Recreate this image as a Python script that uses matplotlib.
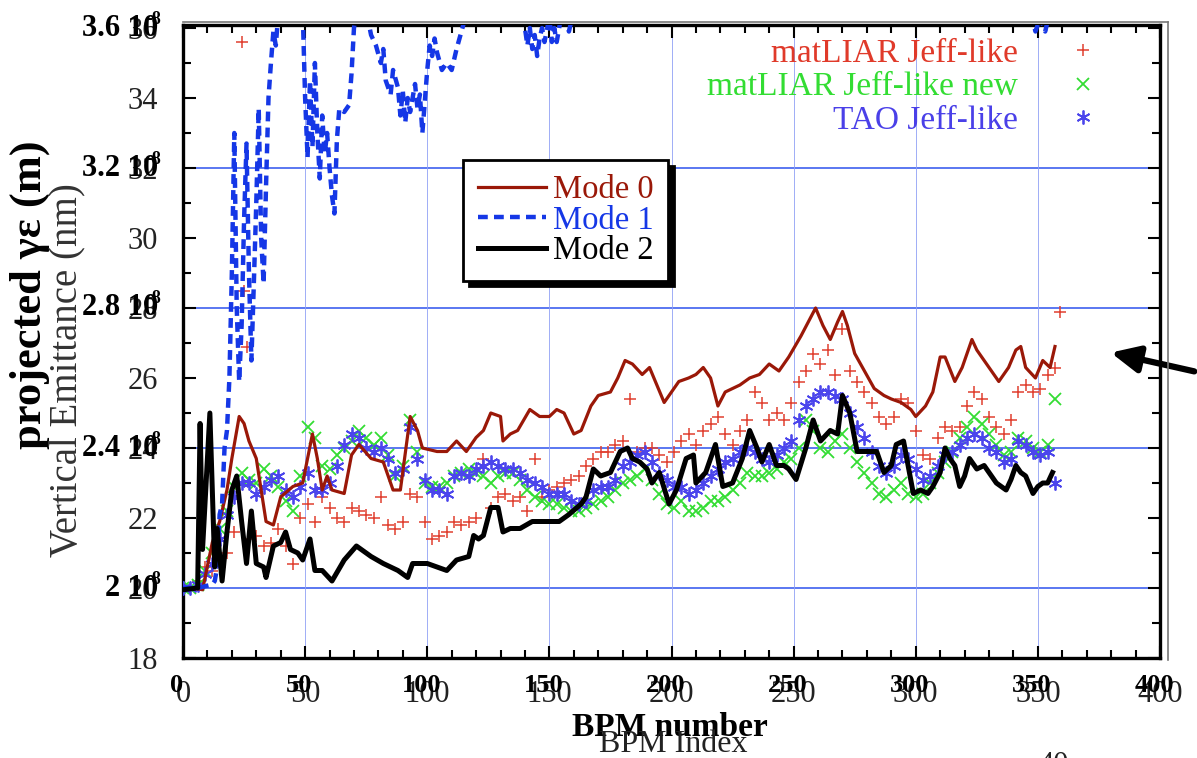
import matplotlib
matplotlib.use("Agg")
import matplotlib.pyplot as plt
from matplotlib.lines import Line2D
from matplotlib.ticker import MultipleLocator

plt.rcParams['font.family'] = ['Liberation Serif', 'DejaVu Serif']
plt.rcParams['mathtext.fontset'] = 'custom'
plt.rcParams['mathtext.rm'] = 'Liberation Serif'
plt.rcParams['mathtext.bf'] = 'Liberation Serif:bold'

# ---- marker series (every 3rd BPM) ----
bpm = list(range(0, 358, 3))

tao = [20.0, 20.0, 20.1, 20.4, 20.7, 21.4, 22.1, 22.6, 23.0, 23.0,
       22.7, 22.9, 23.1, 23.2, 22.8, 22.6, 22.9, 23.3, 22.8, 22.8,
       23.0, 23.5, 24.1, 24.4, 24.3, 24.0, 23.9, 24.0, 23.7, 23.3,
       23.4, 24.6, 23.7, 23.1, 22.8, 22.8, 22.7, 23.2, 23.3, 23.2,
       23.4, 23.5, 23.6, 23.5, 23.4, 23.4, 23.3, 23.1, 23.0, 22.9,
       22.7, 22.7, 22.7, 22.5, 22.4, 22.5, 22.8, 22.9, 22.9, 23.1,
       23.5, 23.6, 23.8, 23.9, 23.6, 23.3, 23.1, 22.9, 22.9, 22.7,
       22.8, 23.0, 23.2, 23.4, 23.6, 23.7, 23.9, 24.0, 23.9, 23.7,
       23.6, 23.8, 24.0, 24.2, 24.8, 25.2, 25.4, 25.6, 25.6, 25.5,
       25.4, 25.0, 24.6, 24.3, 23.9, 23.5, 23.3, 23.5, 23.8, 23.7,
       23.4, 23.1, 23.2, 23.5, 23.8, 23.9, 24.1, 24.3, 24.4, 24.3,
       24.0, 23.9, 23.6, 23.7, 24.2, 24.1, 23.9, 23.8, 23.9, 23.0]

liar_new = [20.0, 20.0, 20.1, 20.5, 21.0, 21.7, 22.2, 22.9, 23.3, 23.1,
            23.0, 23.4, 23.2, 22.9, 22.5, 22.2, 23.2, 24.6, 24.3, 23.5,
            23.4, 23.8, 24.0, 24.2, 24.5, 24.3, 24.1, 24.3, 23.8, 23.2,
            23.5, 24.8, 23.9, 23.0, 22.9, 22.9, 23.0, 23.2, 23.3, 23.4,
            23.3, 23.2, 23.0, 23.2, 23.3, 23.3, 23.1, 22.8, 22.6, 22.5,
            22.4, 22.4, 22.3, 22.2, 22.2, 22.3, 22.4, 22.5, 22.6, 22.8,
            23.0, 23.1, 23.2, 23.4, 23.1, 22.7, 22.4, 22.3, 22.5, 22.2,
            22.2, 22.3, 22.5, 22.5, 22.6, 22.8, 23.0, 23.3, 23.2, 23.2,
            23.3, 23.4, 23.6, 23.7, 24.0, 24.8, 24.5, 24.0, 23.9, 24.2,
            24.4, 24.0, 23.6, 23.3, 23.0, 22.7, 22.6, 22.8, 23.0, 22.7,
            22.6, 22.7, 23.0, 23.3, 23.6, 23.9, 24.3, 24.6, 24.9, 24.7,
            24.4, 24.1, 23.8, 23.9, 24.3, 24.2, 24.0, 23.9, 24.1, 25.4]

liar = [20.0, 20.0, 20.2, 20.6, 20.5, 20.6, 21.0, 21.6, 35.6, 21.4,
        21.5, 21.2, 21.3, 21.7, 21.2, 20.7, 22.0, 22.4, 21.9, 22.6,
        22.3, 22.0, 21.9, 22.3, 22.2, 22.1, 22.0, 22.6, 21.8, 21.7,
        21.9, 22.7, 22.6, 21.9, 21.4, 21.5, 21.6, 21.9, 21.8, 21.9,
        22.0, 23.7, 22.3, 22.6, 22.7, 22.5, 22.6, 22.2, 23.7, 22.6,
        22.8, 22.9, 23.0, 23.1, 23.2, 23.5, 23.7, 23.9, 23.9, 24.1,
        24.2, 25.4, 23.9, 24.0, 24.0, 23.8, 23.6, 23.9, 24.2, 24.4,
        24.1, 24.5, 24.7, 24.9, 24.4, 24.1, 24.5, 24.8, 25.6, 25.3,
        24.8, 25.0, 24.8, 25.3, 25.9, 26.2, 26.7, 26.4, 26.8, 26.1,
        27.4, 26.2, 25.9, 25.6, 25.3, 24.9, 24.7, 24.9, 25.4, 25.3,
        24.5, 23.8, 23.7, 24.3, 24.6, 24.5, 24.6, 25.2, 25.6, 25.4,
        24.9, 24.6, 24.4, 24.8, 25.6, 25.8, 25.6, 25.7, 26.1, 26.3]
liar_extra_x = [25, 26, 359]
liar_extra_y = [28.5, 26.9, 27.9]

# ---- line series ----
mode0_x = [0, 4, 8, 12, 15, 18, 20, 23, 25, 27, 30, 34, 37, 40, 45, 49, 53, 55, 57, 59,
           61, 66, 69, 72, 77, 82, 86, 89, 93, 96, 98, 104, 108, 112, 116, 120, 123, 126, 130, 131,
           134, 137, 142, 146, 150, 153, 156, 160, 163, 167, 170, 175, 178, 181, 184, 188, 191, 194, 197, 200,
           203, 207, 210, 213, 216, 219, 222, 225, 228, 232, 236, 240, 244, 248, 253, 256, 259, 262, 265, 268,
           270, 272, 275, 279, 283, 287, 290, 294, 298, 300, 304, 307, 310, 312, 316, 319, 323, 325, 329, 332,
           334, 338, 341, 343, 345, 349, 352, 355, 357]
mode0_y = [20.0, 20.0, 19.95, 21.3, 21.9, 22.8, 23.7, 24.9, 24.7, 24.2, 23.7, 21.9, 21.8, 22.6, 22.9, 23.0, 24.4, 23.7, 22.8, 23.2,
           22.8, 22.7, 23.8, 24.1, 23.7, 23.6, 22.8, 22.8, 24.9, 24.5, 24.0, 23.9, 23.9, 24.2, 23.9, 24.3, 24.5, 25.0, 24.9, 24.2,
           24.4, 24.5, 25.1, 24.9, 24.9, 25.1, 25.0, 24.4, 24.5, 25.2, 25.5, 25.6, 26.0, 26.5, 26.4, 26.1, 26.3, 25.8, 25.3, 25.6,
           25.9, 26.0, 26.1, 26.3, 26.0, 25.2, 25.6, 25.7, 25.8, 26.0, 26.1, 26.4, 26.2, 26.6, 27.2, 27.6, 28.0, 27.5, 27.1, 27.6,
           27.9, 27.5, 26.7, 26.2, 25.7, 25.5, 25.4, 25.3, 25.1, 24.9, 25.2, 25.6, 26.6, 26.6, 25.9, 26.3, 27.1, 26.8, 26.4, 26.1,
           25.9, 26.3, 26.8, 26.9, 26.3, 26.0, 26.5, 26.3, 26.9]

mode1_x = [0, 6, 12, 13, 14, 15, 16, 17, 18, 19, 20, 21, 22, 23, 24, 25, 26, 27, 28, 29,
           30, 31, 32, 33, 34, 35, 36, 37, 38, 39, 42, 46, 49, 50, 51, 52, 53, 54, 55, 56,
           57, 58, 59, 60, 61, 62, 63, 64, 66, 68, 69, 70, 72, 75, 77, 79, 81, 82, 83, 85,
           86, 88, 89, 90, 91, 92, 93, 95, 96, 97, 98, 99, 100, 101, 102, 103, 104, 106, 108, 110,
           112, 114, 116, 120, 130, 138, 141, 142, 143, 144, 145, 146, 147, 148, 150, 151, 152, 153, 155, 157,
           158, 160, 170, 200, 250, 300, 340, 348, 349, 351, 353, 355, 357]
mode1_y = [20.0, 20.0, 20.1, 20.2, 20.6, 22.1, 22.4, 24.0, 24.5, 26.0, 29.0, 33.0, 28.0, 25.9, 27.5, 30.5, 32.7, 29.0, 26.5, 28.7,
           31.0, 33.7, 30.0, 28.7, 31.5, 34.0, 35.0, 35.9, 35.5, 36.4, 37.0, 37.0, 36.5, 34.0, 32.3, 34.5, 32.6, 35.0, 33.0, 31.7,
           33.5, 32.4, 33.0, 32.0, 31.2, 30.7, 32.8, 33.7, 33.6, 33.8, 34.7, 36.0, 37.0, 36.5, 35.8, 35.5, 35.0, 35.4, 34.5, 34.1,
           34.8, 34.3, 33.5, 34.2, 33.3, 34.0, 33.6, 34.4, 33.7, 34.1, 33.0, 33.9, 34.8, 35.5, 35.2, 35.7, 35.3, 34.8, 35.0, 34.8,
           35.4, 35.9, 36.4, 37.5, 38.0, 37.0, 35.5, 36.0, 35.4, 35.8, 35.2, 35.7, 36.0, 35.6, 36.3, 35.6, 36.0, 35.6, 36.4, 36.2,
           35.9, 36.5, 38.0, 39.0, 40.0, 39.0, 37.5, 36.2, 35.9, 36.3, 35.9, 36.5, 37.0]

mode2_x = [0, 6, 7, 8, 11, 13, 14, 16, 18, 20, 22, 24, 26, 28, 30, 33, 34, 37, 40, 42,
           44, 47, 49, 52, 54, 57, 61, 66, 71, 77, 82, 88, 92, 94, 100, 108, 112, 117, 119, 121,
           123, 126, 129, 131, 134, 138, 143, 149, 154, 158, 163, 165, 168, 171, 175, 179, 182, 184, 187, 190,
           192, 195, 199, 202, 206, 209, 210, 214, 218, 221, 225, 229, 232, 235, 237, 240, 243, 246, 248, 251,
           255, 258, 261, 265, 268, 270, 273, 276, 280, 284, 287, 290, 292, 295, 299, 302, 305, 307, 310, 312,
           314, 316, 318, 320, 322, 325, 328, 330, 333, 337, 339, 341, 343, 345, 348, 350, 352, 354, 356]
mode2_y = [19.95, 20.0, 24.7, 21.1, 25.0, 20.6, 21.7, 20.2, 21.6, 22.8, 23.2, 21.9, 20.7, 22.2, 20.7, 20.6, 20.3, 21.2, 21.3, 21.6,
           21.1, 21.0, 20.8, 21.4, 20.5, 20.5, 20.2, 20.8, 21.2, 20.9, 20.7, 20.5, 20.3, 20.7, 20.7, 20.5, 20.8, 20.9, 21.5, 21.4,
           21.5, 22.3, 22.3, 21.6, 21.7, 21.7, 21.9, 21.9, 21.9, 22.1, 22.4, 22.6, 23.4, 23.2, 23.3, 23.9, 24.0, 23.7, 23.6, 23.4,
           23.0, 23.3, 22.4, 22.8, 23.7, 23.8, 23.0, 23.3, 24.1, 22.9, 23.0, 23.7, 24.5, 24.0, 23.6, 24.1, 23.5, 23.5, 23.4, 23.1,
           24.0, 24.8, 24.2, 24.5, 24.4, 25.5, 25.0, 23.9, 23.9, 23.9, 23.3, 23.5, 24.1, 24.2, 22.7, 22.8, 22.7, 22.9, 23.3, 24.0,
           23.7, 23.5, 22.9, 23.2, 23.7, 23.4, 23.5, 23.3, 23.0, 22.8, 23.1, 23.5, 23.3, 23.2, 22.7, 22.9, 23.0, 23.0, 23.3]

y_ticks = [18, 20, 22, 24, 26, 28, 30, 32, 34, 36]
bold_y = [20, 24, 28, 32, 36]
bold_y_labels = ['2 10', '2.4 10', '2.8 10', '3.2 10', '3.6 10']
x_ticks = [0, 50, 100, 150, 200, 250, 300, 350, 400]

W, H = 1197, 758
fig = plt.figure(figsize=(W / 100, H / 100), dpi=100)


def fx(x):
    return x / W


def fy(y):
    return 1 - y / H


ax = fig.add_axes([fx(183), fy(658), (1160 - 183) / W, (658 - 25) / H])
ax.set_xlim(0, 400)
ax.set_ylim(18, 18 + 633 / 35)

# grid
for g in bold_y[:-1]:
    ax.axhline(g, color='#4d6cf0', lw=1.3, zorder=1)
for g in x_ticks[1:-1]:
    ax.axvline(g, color='#8fa0f5', lw=0.6, zorder=1)

# markers
ax.plot(bpm, liar, ls='none', marker='+', ms=9, mew=1.1, color='#e04030', zorder=3)
ax.plot(liar_extra_x, liar_extra_y, ls='none', marker='+', ms=9, mew=1.1, color='#e04030', zorder=3)
ax.plot(bpm, liar_new, ls='none', marker='x', ms=8, mew=1.3, color='#33dd33', zorder=3)
ax.plot(bpm, tao, ls='none', marker=(6, 2, 0), ms=10, mew=1.3, color='#4b45ec', zorder=3)

# lines
l0, = ax.plot(mode0_x, mode0_y, color='#9a1808', lw=2.3, zorder=4, label='Mode 0')
l1, = ax.plot(mode1_x, mode1_y, color='#1537e6', lw=3.2, ls=(0, (2.2, 1.4)), zorder=4, label='Mode 1')
l2, = ax.plot(mode2_x, mode2_y, color='black', lw=3.6, zorder=5, label='Mode 2')

# ticks and spines
ax.set_yticks(y_ticks)
ax.set_yticklabels([str(v) for v in y_ticks])
ax.yaxis.set_minor_locator(MultipleLocator(1))
ax.set_xticks(x_ticks)
ax.set_xticklabels([str(v) for v in x_ticks])
ax.xaxis.set_minor_locator(MultipleLocator(10))
ax.tick_params(which='both', direction='in', top=True, right=True, width=1.5, colors='black')
ax.tick_params(which='major', length=9)
ax.tick_params(which='minor', length=6)
ax.tick_params(axis='y', which='major', pad=18, labelsize=22, labelcolor='#222222')
ax.tick_params(axis='x', which='major', pad=16, labelsize=22, labelcolor='#222222')
for s in ax.spines.values():
    s.set_linewidth(2.4)

# second frame of the overlaid page
fig.add_artist(Line2D([fx(1168), fx(1168)], [fy(22), fy(660)], color='#777777', lw=1.2))
fig.add_artist(Line2D([fx(183), fx(1168)], [fy(22), fy(22)], color='#777777', lw=1.2))

# bold labels of the overlaid plot
for v, lab in zip(bold_y, bold_y_labels):
    yy = fy(658 - (v - 18) * 35)
    fig.text(fx(158), yy, lab, ha='right', va='center', fontsize=22, fontweight='bold')
    fig.text(fx(161), yy + 9 / H, '-8', ha='right', va='center', fontsize=13, fontweight='bold')
for v in x_ticks:
    fig.text(fx(183 + v * 2.4425 - 6), fy(685), str(v), ha='center', va='center',
             fontsize=19, fontweight='bold')

fig.text(fx(670), fy(727), 'BPM number', ha='center', va='center', fontsize=24, fontweight='bold')
fig.text(fx(673), fy(745), 'BPM Index', ha='center', va='center', fontsize=23, color='#222222')
fig.text(fx(30), fy(295), 'projected γε (m)', ha='center', va='center', rotation=90,
         fontsize=32, fontweight='bold')
fig.text(fx(67), fy(370), 'Vertical Emittance (nm)', ha='center', va='center', rotation=90,
         fontsize=28, color='#333333')
fig.text(fx(1054), fy(751), '40', ha='center', va='top', fontsize=22, color='#222222')

# marker legend (top right)
h_liar = Line2D([], [], ls='none', marker='+', ms=9, mew=1.1, color='#e04030')
h_new = Line2D([], [], ls='none', marker='x', ms=8, mew=1.3, color='#33dd33')
h_tao = Line2D([], [], ls='none', marker=(6, 2, 0), ms=10, mew=1.3, color='#4b45ec')
leg1 = ax.legend([h_liar, h_new, h_tao], ['matLIAR Jeff-like', 'matLIAR Jeff-like new', 'TAO Jeff-like'],
                 loc='upper right', bbox_to_anchor=(fx(1116), fy(38)), bbox_transform=fig.transFigure,
                 markerfirst=False, frameon=False, fontsize=24, numpoints=1, handlelength=2,
                 handletextpad=0.95, labelspacing=0.1, borderpad=0, borderaxespad=0,
                 labelcolor=['#e03a2a', '#33dd33', '#4a40e8'])
ax.add_artist(leg1)

# mode legend
leg2 = ax.legend([l0, l1, l2], ['Mode 0', 'Mode 1', 'Mode 2'], loc='upper left',
                 bbox_to_anchor=(fx(463), fy(160)), bbox_transform=fig.transFigure,
                 fontsize=23.5, handlelength=2.1, handletextpad=0.2, labelspacing=0.0,
                 borderpad=0.45, borderaxespad=0, fancybox=False, labelcolor='linecolor',
                 shadow={'ox': 4, 'oy': -4, 'color': 'black', 'alpha': 1})
leg2.get_frame().set_edgecolor('black')
leg2.get_frame().set_linewidth(2)
leg2.get_frame().set_alpha(1)
leg2.set_zorder(10)

# arrow at right edge
ax.annotate('', xy=(1108, H - 352), xytext=(1197, H - 372), xycoords='figure pixels',
            textcoords='figure pixels', annotation_clip=False,
            arrowprops=dict(arrowstyle='-|>,head_length=1.7,head_width=0.8', lw=4.5, color='black'))

fig.savefig('out.png', dpi=100)
